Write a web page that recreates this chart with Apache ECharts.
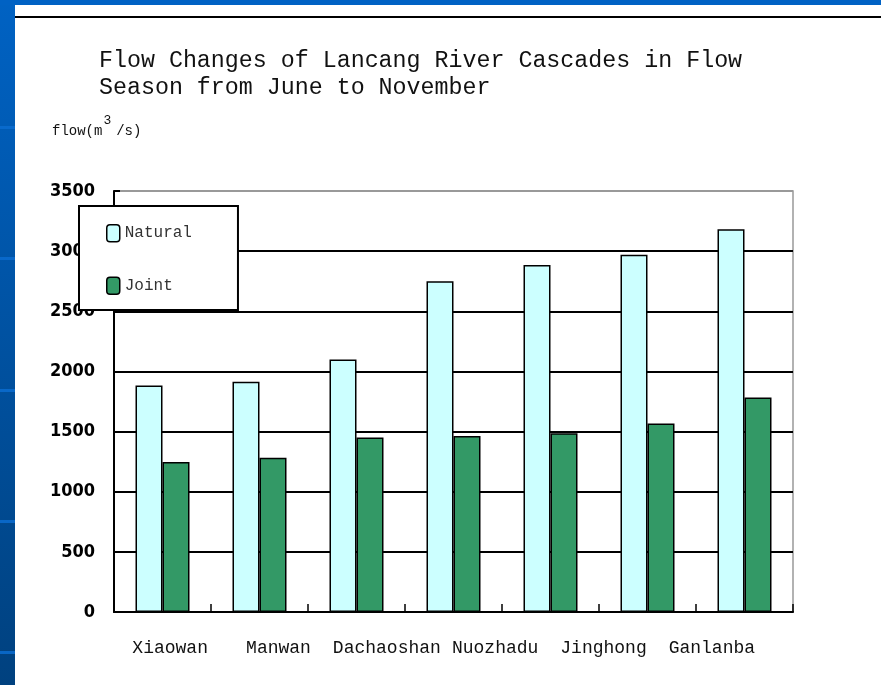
<!DOCTYPE html>
<html>
<head>
<meta charset="utf-8">
<title>Flow Changes of Lancang River Cascades</title>
<script src="https://cdn.jsdelivr.net/npm/echarts@6/dist/echarts.min.js"></script>
<style>
  html, body { margin: 0; padding: 0; background: #fff; }
  #chart { width: 881px; height: 685px; }
</style>
</head>
<body>
<div id="chart"></div>
<script>
// Station labels printed under the axis
const stationNames = ['Xiaowan', 'Manwan', 'Dachaoshan', 'Nuozhadu', 'Jinghong', 'Ganlanba'];
// Bar groups along the category axis
const barGroups = ['1', '2', '3', '4', '5', '6', '7'];
// Mean flow (m3/s), June–November
const naturalFlow = [1883, 1914, 2100, 2749, 2884, 2969, 3183];
const jointFlow = [1248, 1283, 1450, 1463, 1486, 1568, 1784];
// Value axis range
const yMin = 0, yMax = 3500, yStep = 500;

const MONO = '"Liberation Mono", "DejaVu Sans Mono", monospace';
const NARROW = '"DejaVu Sans Condensed", "Liberation Sans Narrow", "Liberation Sans", Arial, sans-serif';

const chart = echarts.init(document.getElementById('chart'), null, { renderer: 'canvas' });

// slide frame: blue edge on the left and top with lighter bands, black rule under the top
const frame = [
  { type: 'rect', shape: { x: 0, y: 0, width: 15, height: 685 },
    style: { fill: new echarts.graphic.LinearGradient(0, 0, 0, 1, [
      { offset: 0, color: '#0062c3' }, { offset: 1, color: '#00417f' }]) } },
  { type: 'rect', shape: { x: 0, y: 0, width: 881, height: 5 }, style: { fill: '#0062c4' } },
  { type: 'rect', shape: { x: 15, y: 16, width: 866, height: 2 }, style: { fill: '#000' } }
];
[126, 257, 389, 520, 651].forEach(y => {
  frame.push({ type: 'rect', shape: { x: 0, y: y, width: 15, height: 3 }, style: { fill: '#0b6cd0', opacity: 0.85 } });
});

const splitColors = [];
for (let v = yMin; v <= yMax; v += yStep) splitColors.push(v === yMax ? '#999' : '#000');

chart.setOption({
  animation: false,
  backgroundColor: '#fff',
  graphic: frame,
  title: [
    {
      text: 'Flow Changes of Lancang River Cascades in Flow\nSeason from June to November',
      left: 99, top: 47, padding: 0,
      textStyle: { fontFamily: MONO, fontSize: 23.3, fontWeight: 'normal', color: '#111', lineHeight: 27 }
    },
    {
      text: '{a|flow(m}{b|3}{a|/s)}',
      left: 52, top: 114, padding: 0,
      textStyle: {
        fontWeight: 'normal',
        rich: {
          a: { fontFamily: MONO, fontSize: 14, fontWeight: 'normal', color: '#111', verticalAlign: 'bottom', lineHeight: 24 },
          b: { fontFamily: MONO, fontSize: 13, fontWeight: 'normal', color: '#111', verticalAlign: 'top', lineHeight: 24, padding: [0, 5, 10, 1] }
        }
      }
    }
  ],
  legend: {
    data: ['Natural', 'Joint'],
    orient: 'vertical',
    left: 79, top: 206,
    icon: 'roundRect',
    itemWidth: 13, itemHeight: 17, itemGap: 34,
    padding: [18, 46, 15, 27],
    borderColor: '#000', borderWidth: 2,
    backgroundColor: '#fff',
    itemStyle: { borderColor: '#000', borderWidth: 1.5 },
    textStyle: { fontFamily: MONO, fontSize: 16, color: '#333' }
  },
  grid: [
    { left: 114, right: 88, top: 191, bottom: 73, show: true, borderColor: '#999', borderWidth: 1.5, backgroundColor: '#fff' },
    { left: 116, width: 650, top: 191, bottom: 73, show: false }
  ],
  xAxis: [
    {
      type: 'category', data: barGroups, gridIndex: 0, boundaryGap: true,
      axisLine: { lineStyle: { color: '#000', width: 2 } },
      axisTick: { show: true, inside: true, length: 8, interval: 0, lineStyle: { color: '#000', width: 1.5 } },
      axisLabel: { show: false }
    },
    {
      type: 'category', data: stationNames, gridIndex: 1,
      axisLine: { show: false }, axisTick: { show: false },
      axisLabel: { margin: 27, fontFamily: MONO, fontSize: 18, color: '#111', interval: 0 }
    }
  ],
  yAxis: [
    {
      type: 'value', gridIndex: 0, min: yMin, max: yMax, interval: yStep,
      axisLine: { show: true, lineStyle: { color: '#000', width: 2 } },
      axisTick: { show: true, inside: true, length: 6, lineStyle: { color: '#000', width: 2 } },
      axisLabel: { margin: 19, fontFamily: NARROW, fontSize: 18, fontWeight: 'bold', color: '#000',
                   formatter: v => String(v) },
      splitLine: { show: true, lineStyle: { color: splitColors, width: 2 } }
    },
    { type: 'value', gridIndex: 1, show: false, min: yMin, max: yMax }
  ],
  series: [
    {
      name: 'Natural', type: 'bar', data: naturalFlow, xAxisIndex: 0, yAxisIndex: 0,
      barWidth: 27, barGap: '0%',
      itemStyle: { color: '#ccffff', borderColor: '#000', borderWidth: 1.5 }
    },
    {
      name: 'Joint', type: 'bar', data: jointFlow, xAxisIndex: 0, yAxisIndex: 0,
      barWidth: 27, barGap: '0%',
      itemStyle: { color: '#339966', borderColor: '#000', borderWidth: 1.5 }
    }
  ]
});
</script>
</body>
</html>
